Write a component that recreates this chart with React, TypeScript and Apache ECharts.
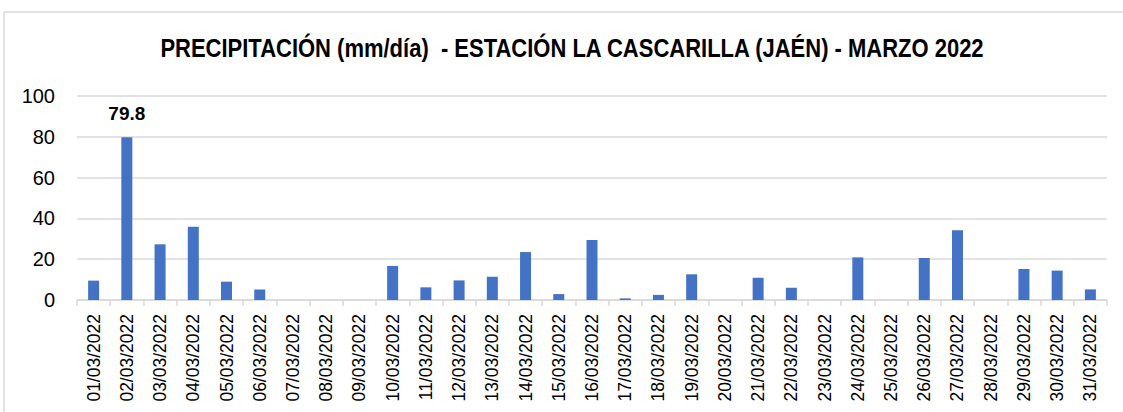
import React, { useEffect, useRef } from "react";
import * as echarts from "echarts";

const TITLE = "PRECIPITACIÓN (mm/día)  - ESTACIÓN LA CASCARILLA (JAÉN) - MARZO 2022";

const categories = [
  "01/03/2022", "02/03/2022", "03/03/2022", "04/03/2022", "05/03/2022", "06/03/2022",
  "07/03/2022", "08/03/2022", "09/03/2022", "10/03/2022", "11/03/2022", "12/03/2022",
  "13/03/2022", "14/03/2022", "15/03/2022", "16/03/2022", "17/03/2022", "18/03/2022",
  "19/03/2022", "20/03/2022", "21/03/2022", "22/03/2022", "23/03/2022", "24/03/2022",
  "25/03/2022", "26/03/2022", "27/03/2022", "28/03/2022", "29/03/2022", "30/03/2022",
  "31/03/2022",
];

const precipitation = [
  9.5, 79.8, 27.3, 35.9, 9.0, 5.2,
  0, 0, 0, 16.7, 6.2, 9.6,
  11.4, 23.5, 2.9, 29.4, 0.8, 2.5,
  12.6, 0, 10.9, 6.0, 0, 20.9,
  0, 20.6, 34.2, 0, 15.2, 14.4,
  5.2,
];

const yTicks = [0, 20, 40, 60, 80, 100];

const labeledIndex = [1];

const FONT = "'Liberation Sans', Arial, sans-serif";

export default function App() {
  const ref = useRef<HTMLDivElement>(null);

  useEffect(() => {
    document.body.style.margin = "0";
    const chart = echarts.init(ref.current!, null, { renderer: "svg" });
    chart.setOption({
      animation: false,
      backgroundColor: "#ffffff",
      graphic: [
        {
          type: "rect",
          shape: { x: 4, y: 12, width: 1140, height: 420 },
          style: { fill: "none", stroke: "#d9d9d9", lineWidth: 1.5 },
          silent: true,
        },
        {
          type: "text",
          x: 572,
          y: 48,
          scaleY: 1.2,
          style: {
            text: TITLE,
            fill: "#000000",
            font: "bold 22px 'Liberation Sans', Arial, sans-serif",
            textAlign: "center",
            textVerticalAlign: "middle",
          },
          silent: true,
        },
      ],
      grid: {
        left: 77,
        right: 16,
        top: 96,
        bottom: 112,
        containLabel: false,
        outerBoundsMode: "none",
      },
      xAxis: {
        type: "category",
        data: categories,
        axisLine: { lineStyle: { color: "#d9d9d9", width: 1.5 } },
        axisTick: { show: true, length: 6, lineStyle: { color: "#d9d9d9", width: 1.5 } },
        axisLabel: {
          rotate: 90,
          margin: 14,
          color: "#000000",
          fontFamily: FONT,
          fontSize: 17.5,
          interval: 0,
        },
      },
      yAxis: {
        type: "value",
        min: yTicks[0],
        max: yTicks[yTicks.length - 1],
        interval: yTicks[1] - yTicks[0],
        axisLine: { show: false },
        axisTick: { show: false },
        splitLine: { lineStyle: { color: "#d9d9d9", width: 1.5 } },
        axisLabel: { margin: 22, color: "#000000", fontFamily: FONT, fontSize: 20 },
      },
      series: [
        {
          type: "bar",
          barWidth: 11,
          itemStyle: { color: "#4472C4" },
          data: precipitation.map((v, i) =>
            labeledIndex.includes(i)
              ? {
                  value: v,
                  label: {
                    show: true,
                    position: "top",
                    distance: 14,
                    formatter: (p: any) => p.value.toFixed(1),
                    fontFamily: FONT,
                    fontSize: 19,
                    fontWeight: "bold",
                    color: "#000000",
                  },
                }
              : v
          ),
        },
      ],
    });
    return () => chart.dispose();
  }, []);

  return <div ref={ref} style={{ width: 1123, height: 412 }} />;
}
